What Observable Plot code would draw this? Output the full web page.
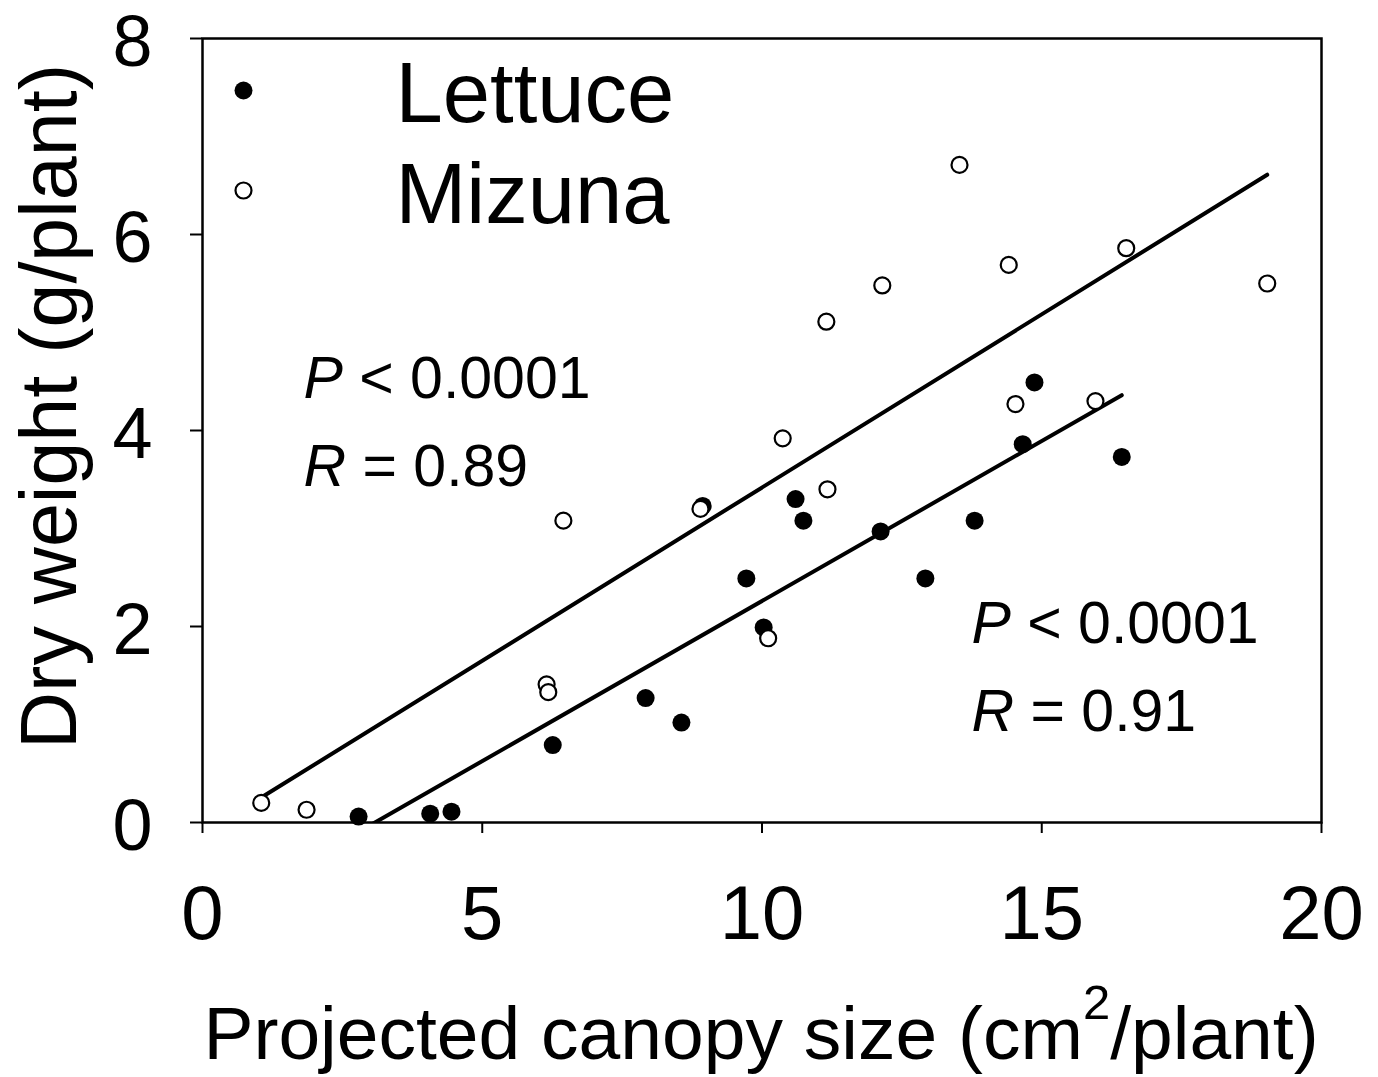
<!DOCTYPE html>
<html>
<head>
<meta charset="utf-8">
<script src="https://cdn.jsdelivr.net/npm/d3@7"></script>
<script src="https://cdn.jsdelivr.net/npm/@observablehq/plot@0.6"></script>
<style>
  html, body { margin: 0; padding: 0; background: #fff; }
  #chart svg { display: block; }
</style>
</head>
<body>
<div id="chart"></div>
<script>
// Lettuce (filled circles)
const lettuceX = [2.79, 4.07, 4.45, 6.26, 7.92, 8.56, 8.94, 9.72, 10.03, 10.60, 10.74, 12.12, 12.92, 13.80, 14.66, 14.87, 16.43];
const lettuceY = [0.06, 0.09, 0.11, 0.79, 1.27, 1.02, 3.23, 2.49, 1.99, 3.30, 3.08, 2.97, 2.49, 3.08, 3.86, 4.49, 3.73];
// Mizuna (open circles)
const mizunaX = [1.05, 1.86, 6.15, 6.18, 6.45, 8.90, 10.11, 10.37, 11.17, 11.15, 12.15, 13.53, 14.41, 14.53, 15.96, 16.51, 19.03];
const mizunaY = [0.20, 0.13, 1.41, 1.33, 3.08, 3.20, 1.88, 3.92, 3.40, 5.11, 5.48, 6.71, 5.69, 4.27, 4.30, 5.86, 5.50];

const xTicks = [0, 5, 10, 15, 20];
const yTicks = [0, 2, 4, 6, 8];
const seriesNames = ["Lettuce", "Mizuna"];
const statsMizuna = ["P < 0.0001", "R = 0.89"];
const statsLettuce = ["P < 0.0001", "R = 0.91"];
const xTitle = "Projected canopy size (cm2/plant)";
const yTitle = "Dry weight (g/plant)";

const lettuce = lettuceX.map((x, i) => ({x, y: lettuceY[i]}));
const mizuna = mizunaX.map((x, i) => ({x, y: mizunaY[i]}));

const FONT = "'Liberation Sans', Arial, sans-serif";

const plot = Plot.plot({
  width: 1378,
  height: 1077,
  marginLeft: 202,
  marginRight: 57,
  marginTop: 38,
  marginBottom: 255,
  style: {fontFamily: FONT, background: "#fff", color: "#000", overflow: "visible"},
  x: {domain: [0, 20]},
  y: {domain: [0, 8]},
  marks: [
    Plot.axisX({ticks: xTicks, tickSize: 11, tickPadding: 52, fontSize: 76, strokeWidth: 2, label: null, tickFormat: d => String(d)}),
    // y tick marks only
    Plot.axisY({ticks: yTicks, tickSize: 12, strokeWidth: 2, fill: "none", label: null, tickFormat: d => String(d)}),
    // y tick labels only (nudged to match reference baseline)
    Plot.axisY({ticks: yTicks, tickSize: 0, tickPadding: 50, dy: 4, fontSize: 72, label: null, tickFormat: d => String(d)}),
    Plot.frame({stroke: "#000", strokeWidth: 2.5}),
    Plot.linearRegressionY(mizuna, {x: "x", y: "y", ci: 0, stroke: "#000", strokeWidth: 4, clip: true}),
    Plot.linearRegressionY(lettuce, {x: "x", y: "y", ci: 0, stroke: "#000", strokeWidth: 4, clip: true}),
    Plot.dot(lettuce, {x: "x", y: "y", r: 9, fill: "#000", stroke: "none"}),
    Plot.dot(mizuna, {x: "x", y: "y", r: 8, fill: "#fff", stroke: "#000", strokeWidth: 2.2}),
    // legend
    Plot.dot([seriesNames[0]], {frameAnchor: "top-left", dx: 41, dy: 52, r: 9, fill: "#000", stroke: "none"}),
    Plot.dot([seriesNames[1]], {frameAnchor: "top-left", dx: 41, dy: 152, r: 8, fill: "#fff", stroke: "#000", strokeWidth: 2.2}),
    Plot.text([seriesNames[0]], {frameAnchor: "top-left", dx: 193, dy: 83, text: d => d, textAnchor: "start", lineAnchor: "bottom", fontSize: 85}),
    Plot.text([seriesNames[1]], {frameAnchor: "top-left", dx: 193, dy: 184, text: d => d, textAnchor: "start", lineAnchor: "bottom", fontSize: 85}),
    // statistics annotations
    Plot.text([statsMizuna[0]], {frameAnchor: "top-left", dx: 101, dy: 359, text: d => d, textAnchor: "start", lineAnchor: "bottom", fontSize: 59}),
    Plot.text([statsMizuna[1]], {frameAnchor: "top-left", dx: 101, dy: 447, text: d => d, textAnchor: "start", lineAnchor: "bottom", fontSize: 59}),
    Plot.text([statsLettuce[0]], {frameAnchor: "top-left", dx: 769, dy: 604, text: d => d, textAnchor: "start", lineAnchor: "bottom", fontSize: 59}),
    Plot.text([statsLettuce[1]], {frameAnchor: "top-left", dx: 769, dy: 692, text: d => d, textAnchor: "start", lineAnchor: "bottom", fontSize: 59}),
    // axis titles
    Plot.text([xTitle], {frameAnchor: "bottom", dx: -1, dy: 236, text: d => d, textAnchor: "middle", lineAnchor: "bottom", fontSize: 75}),
    Plot.text([yTitle], {frameAnchor: "left", dx: -127, dy: -24, rotate: -90, text: d => d, textAnchor: "middle", lineAnchor: "bottom", fontSize: 79})
  ]
});

document.getElementById("chart").appendChild(plot);

// rich text: italic P / R, superscript 2
const svg = d3.select(plot);
svg.selectAll("text").each(function() {
  const el = d3.select(this);
  const t = this.textContent;
  if (/^[PR] [<=] /.test(t) && this.children.length === 0) {
    el.text(null);
    el.append("tspan").attr("font-style", "italic").text(t[0]);
    el.append("tspan").attr("style", "white-space:pre").text(t.slice(1));
  } else if (t === xTitle && this.children.length === 0) {
    el.text(null);
    el.append("tspan").text("Projected canopy size (cm");
    el.append("tspan").attr("font-size", 49).attr("dy", -40).text("2");
    el.append("tspan").attr("dy", 40).text("/plant)");
  }
});
</script>
</body>
</html>
